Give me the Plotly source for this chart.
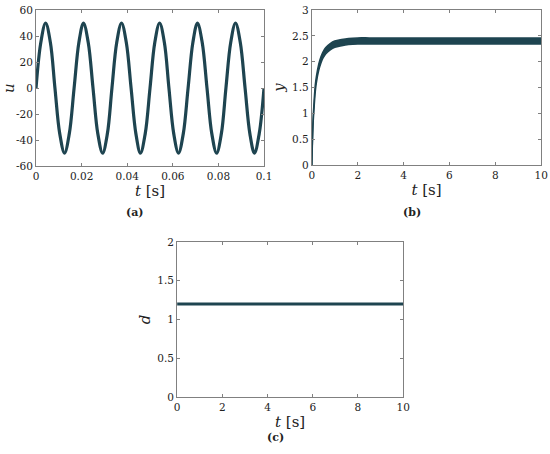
import plotly.graph_objects as go

# ---- data ----
# (a) input voltage u(t), 60 Hz sine sampled every eighth of a period
t_u = [0.0, 0.0021, 0.0042, 0.0063, 0.0083, 0.0104, 0.0125, 0.0146,
       0.0167, 0.0188, 0.0208, 0.0229, 0.0250, 0.0271, 0.0292, 0.0313,
       0.0333, 0.0354, 0.0375, 0.0396, 0.0417, 0.0438, 0.0458, 0.0479,
       0.0500, 0.0521, 0.0542, 0.0563, 0.0583, 0.0604, 0.0625, 0.0646,
       0.0667, 0.0688, 0.0708, 0.0729, 0.0750, 0.0771, 0.0792, 0.0813,
       0.0833, 0.0854, 0.0875, 0.0896, 0.0917, 0.0938, 0.0958, 0.0979,
       0.1000]
u_vals = [0, 35, 50, 35, 0, -35, -50, -35,
          0, 35, 50, 35, 0, -35, -50, -35,
          0, 35, 50, 35, 0, -35, -50, -35,
          0, 35, 50, 35, 0, -35, -50, -35,
          0, 35, 50, 35, 0, -35, -50, -35,
          0, 35, 50, 35, 0, -35, -50, -35,
          0]

# (b) output y(t): ripple band, upper and lower envelopes
t_y = [0.0, 0.05, 0.1, 0.15, 0.2, 0.3, 0.4, 0.5, 0.6, 0.8, 1.0, 1.3,
       1.6, 2.0, 2.5, 3.0, 5.0, 10.0]
y_hi = [0.0, 0.85, 1.25, 1.55, 1.72, 1.95, 2.1, 2.2, 2.27, 2.35, 2.4,
        2.43, 2.45, 2.46, 2.46, 2.46, 2.46, 2.46]
y_lo = [0.0, 0.75, 1.12, 1.42, 1.6, 1.83, 1.98, 2.08, 2.15, 2.23, 2.28,
        2.31, 2.33, 2.34, 2.34, 2.34, 2.34, 2.34]

# (c) disturbance d(t)
t_d = [0, 10]
d_vals = [1.2, 1.2]

u_ticks = [-60, -40, -20, 0, 20, 40, 60]
u_ticktext = ["-60", "-40", "-20", "0", "20", "40", "60"]

LINE = "#1e4450"
FONT = "DejaVu Serif"
TXT = "#222"

fig = go.Figure()

fig.add_trace(go.Scatter(x=t_u, y=u_vals, mode="lines", line=dict(color=LINE, width=3.2, shape="spline"),
                         xaxis="x", yaxis="y", showlegend=False))

fig.add_trace(go.Scatter(x=t_y, y=y_lo, mode="lines", line=dict(color=LINE, width=1.5, shape="spline"),
                         xaxis="x2", yaxis="y2", showlegend=False))
fig.add_trace(go.Scatter(x=t_y, y=y_hi, mode="lines", fill="tonexty", fillcolor=LINE,
                         line=dict(color=LINE, width=1.5, shape="spline"),
                         xaxis="x2", yaxis="y2", showlegend=False))

fig.add_trace(go.Scatter(x=t_d, y=d_vals, mode="lines", line=dict(color=LINE, width=3),
                         xaxis="x3", yaxis="y3", showlegend=False))

axis_style = dict(showline=True, linecolor="#808080", linewidth=1, mirror="ticks",
                  ticks="inside", ticklen=3, tickcolor="#808080", showgrid=False, zeroline=False,
                  automargin=False, ticklabeloverflow="allow",
                  tickfont=dict(family=FONT, size=10.5, color=TXT))
xtitle = dict(text="<i>t</i> [s]", font=dict(family=FONT, size=15, color=TXT), standoff=4)


def ytitle(name):
    return dict(text=f"<i>{name}</i>", font=dict(family=FONT, size=15, color=TXT), standoff=3)


fig.update_layout(
    width=550, height=454,
    margin=dict(l=0, r=0, t=0, b=0),
    paper_bgcolor="white", plot_bgcolor="white",
    font=dict(family=FONT),
    xaxis=dict(domain=[0.0655, 0.48], range=[0, 0.1], dtick=0.02, anchor="y",
               title=xtitle, **axis_style),
    yaxis=dict(domain=[0.634, 0.978], range=[-60, 60], tickvals=u_ticks, ticktext=u_ticktext, anchor="x",
               title=ytitle("u"), **axis_style),
    xaxis2=dict(domain=[0.567, 0.984], range=[0, 10], dtick=2, anchor="y2",
                title=xtitle, **axis_style),
    yaxis2=dict(domain=[0.6366, 0.978], range=[0, 3], dtick=0.5, anchor="x2",
                title=ytitle("y"), **axis_style),
    xaxis3=dict(domain=[0.322, 0.733], range=[0, 10], dtick=2, anchor="y3",
                title=xtitle, **axis_style),
    yaxis3=dict(domain=[0.1256, 0.467], range=[0, 2], dtick=0.5, anchor="x3",
                title=ytitle("d"), **axis_style),
)

for label, xpos, ypos in [("(a)", 0.2455, 0.533), ("(b)", 0.749, 0.533),
                          ("(c)", 0.5, 0.0374)]:
    fig.add_annotation(text=f"<b>{label}</b>", x=xpos, y=ypos, xref="paper", yref="paper",
                       xanchor="center", yanchor="middle", showarrow=False,
                       font=dict(family=FONT, size=11, color=TXT))

# drop the browser's default 8 px body margin so the figure fills the window exactly
fig.write_html("out.html", config={"displayModeBar": False},
               post_script="document.body.style.margin='0';")
